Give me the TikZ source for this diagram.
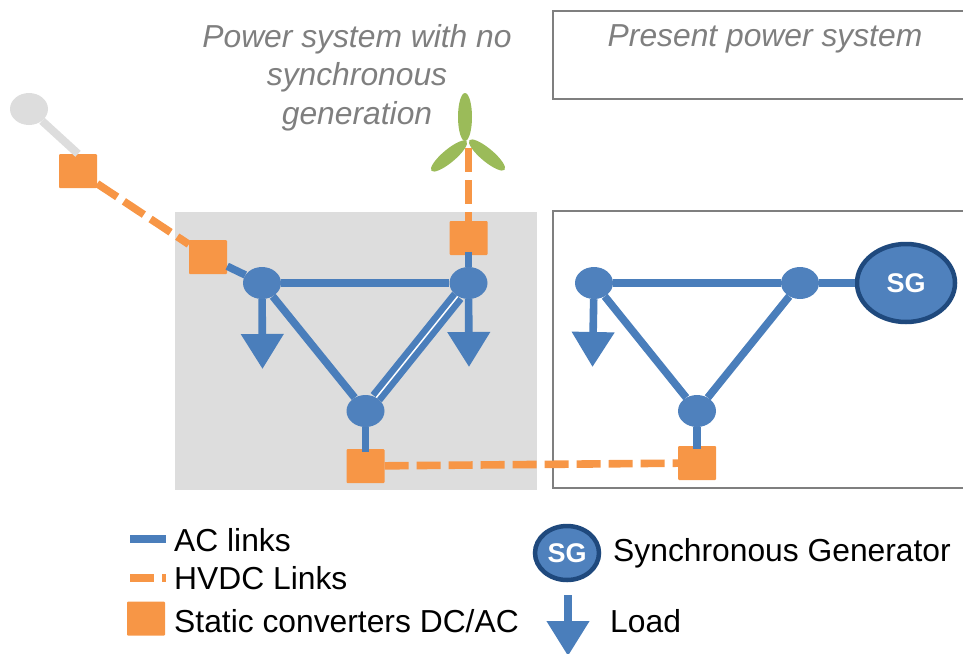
\documentclass[tikz,border=0pt]{standalone}
\usepackage{fontspec}
\setmainfont{Liberation Sans}
\usetikzlibrary{arrows.meta}
\usetikzlibrary{positioning}
\usetikzlibrary{shapes.geometric}
\definecolor{acblue}{HTML}{4A7EBB}
\definecolor{busblue}{HTML}{4F81BD}
\definecolor{sgblue}{HTML}{1F497D}
\definecolor{hvdcorange}{HTML}{F79646}
\definecolor{panelgray}{HTML}{DDDDDD}
\definecolor{framegray}{HTML}{7F7F7F}
\definecolor{bladegreen}{HTML}{9BBB59}
\tikzset{
    bus/.style={ellipse, fill=busblue, inner sep=0, minimum width=38, minimum height=32},
    oldbus/.style={bus, fill=panelgray},
    conv/.style={rectangle, rounded corners=1, fill=hvdcorange, inner sep=0, minimum width=38, minimum height=34},
    sgen/.style={ellipse, draw=sgblue, line width=4.5, fill=busblue, inner sep=0, text=white, font=\fontsize{27}{30}\selectfont\bfseries},
    blade/.style={ellipse, fill=bladegreen, inner sep=0},
    aclink/.style={acblue, line width=7.6},
    stub/.style={aclink, shorten >=-3},
    oldlink/.style={panelgray, line width=8},
    hvdc/.style={hvdcorange, line width=7.6, dash pattern=on 24 off 8},
    loadarrow/.style={acblue, line width=7.6, -{Triangle[width=41, length=35]}},
    frame/.style={framegray, line width=2.4},
    title/.style={text=framegray, font=\fontsize{31.8}{38.5}\selectfont\itshape, align=center},
    legend/.style={anchor=west, inner sep=0, font=\fontsize{31.8}{38}\selectfont}
}
\begin{document}
\begin{tikzpicture}[x=1pt, y=-1pt]
    \useasboundingbox (0,0) rectangle (963,653);

    % panels
    \fill[panelgray] (175,212) rectangle (537,490);
    \draw[frame] (553,211) rectangle (975,488);
    \draw[frame] (553,11) rectangle (975,99);
    \node[title] (titlenew) at (357,77.5) {Power system with no\\synchronous\\generation};
    \node[title] (titleold) at (765,38.5) {Present power system};

    % buses
    \node[oldbus] (busfar) at (29,109) {};
    \node[bus] (bus1) at (262,283) {};
    \node[bus] (bus2) at (468.5,283) {};
    \node[bus] (bus3) at (365.5,411) {};
    \node[bus] (bus4) at (594,283) {};
    \node[bus] (bus5) at (800,283) {};
    \node[bus] (bus6) at (697,411) {};
    \node[sgen, minimum width=98, minimum height=78] (sg) at (906,283) {SG};

    % converters
    \node[conv] (conv1) at (78,171) {};
    \node[conv] (conv2) at (208,257) {};
    \node[conv] (conv3) at (468.5,238) {};
    \node[conv] (conv4) at (365.5,466) {};
    \node[conv] (conv5) at (697,463) {};

    % wind turbine
    \node[blade, minimum width=14, minimum height=48] (blade1) at (465,117) {};
    \node[blade, minimum width=13, minimum height=46, rotate=-50] (blade2) at (449,156) {};
    \node[blade, minimum width=13, minimum height=46, rotate=50] (blade3) at (487,155) {};
    \coordinate (hub) at (468.5,148);

    % AC links
    \draw[oldlink] (busfar) -- (conv1.north);
    \draw[aclink] (conv2) -- (bus1);
    \draw[aclink] (bus1) -- (bus2);
    \draw[aclink] (bus1) -- (bus3);
    \draw[acblue, line width=6.5, double=white, double distance=1.5] (bus2) -- (bus3);
    \draw[stub] (bus2) -- (conv3.south);
    \draw[stub] (bus3) -- (conv4.north);
    \draw[aclink] (bus4) -- (bus5);
    \draw[aclink] (bus4) -- (bus6);
    \draw[aclink] (bus5) -- (bus6);
    \draw[aclink] (bus5) -- (sg);
    \draw[stub] (bus6) -- (conv5.north);

    % HVDC links
    \draw[hvdc] (conv1) -- (conv2);
    \draw[hvdc] (hub) -- (conv3);
    \draw[hvdc] (conv4) -- (conv5);

    % loads
    \coordinate (load1) at (262.5,369);
    \coordinate (load2) at (469,367);
    \coordinate (load3) at (592.5,367);
    \draw[loadarrow] (bus1) -- (load1);
    \draw[loadarrow] (bus2) -- (load2);
    \draw[loadarrow] (bus4) -- (load3);

    % legend
    \coordinate (keyac) at (130,539);
    \coordinate (keyacend) at (166,539);
    \coordinate (keydc) at (130,578);
    \coordinate (keydcend) at (166,578);
    \draw[aclink] (keyac) -- (keyacend);
    \draw[hvdc] (keydc) -- (keydcend);
    \node[conv] (keyconv) at (146,618.5) {};
    \node[sgen, minimum width=64, minimum height=54] (keysg) at (567,553) {SG};
    \coordinate (keyload) at (568,595);
    \coordinate (keyloadend) at (568,656);
    \draw[loadarrow] (keyload) -- (keyloadend);
    \node[legend] (textac) at (174,540) {AC links};
    \node[legend] (textdc) at (174,578) {HVDC Links};
    \node[legend] (textconv) at (174,621) {Static converters DC/AC};
    \node[legend] (textsg) at (613,553.5) {Synchronous Generator};
    \node[legend] (textload) at (610,621) {Load};
\end{tikzpicture}
\end{document}
